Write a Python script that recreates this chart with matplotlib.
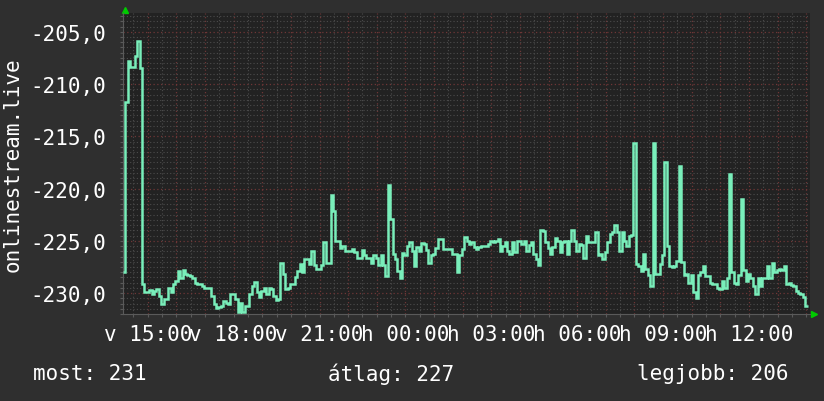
import numpy as np
import matplotlib
matplotlib.use("Agg")
import matplotlib.pyplot as plt
from matplotlib.ticker import MultipleLocator, FuncFormatter

plt.rcParams['font.family'] = ['DejaVu Sans Mono']

# data: 5 minute steps starting 14:08 (minutes counted from sunday 00:00)
start_min = 14 * 60 + 8
step_min = 5
values = [
    -228.0, -211.7, -207.8, -208.4, -208.4, -207.3, -205.9, -208.5, -229.1, -229.9,
    -229.9, -229.7, -230.1, -229.8, -229.6, -230.3, -231.0, -230.6, -230.6, -229.5,
    -229.9, -229.1, -228.8, -227.9, -228.6, -227.8, -228.2, -228.3, -228.4, -228.6,
    -229.0, -229.1, -229.1, -229.3, -229.5, -229.5, -229.5, -230.3, -231.05, -231.4,
    -231.3, -231.2, -230.8, -230.9, -231.0, -230.1, -230.1, -230.6, -231.85, -230.9,
    -231.8, -231.2, -231.2, -230.1, -229.3, -228.9, -229.9, -230.4, -229.8, -229.5,
    -230.1, -229.5, -229.6, -230.3, -230.7, -230.6, -227.1, -228.2, -229.6, -229.5,
    -229.1, -229.1, -228.5, -227.9, -227.2, -228.0, -226.7, -226.7, -227.2, -226.0,
    -227.3, -227.7, -227.7, -227.3, -225.1, -227.1, -227.1, -220.6, -222.1, -225.0,
    -225.0, -225.7, -225.5, -225.95, -225.95, -225.95, -225.8, -226.1, -226.6, -226.6,
    -225.85, -226.4, -226.6, -226.6, -227.1, -226.4, -226.6, -227.3, -226.4, -227.3,
    -228.4, -219.7, -222.9, -226.3, -226.7, -227.9, -228.6, -226.2, -226.4, -225.5,
    -225.1, -226.0, -227.4, -225.6, -226.0, -225.2, -225.3, -225.85, -227.1, -226.4,
    -226.3, -225.7, -224.8, -224.8, -225.8, -225.8, -225.8, -225.8, -226.3, -226.3,
    -228.0, -226.4, -225.8, -224.6, -225.0, -225.3, -225.1, -225.6, -225.8, -225.6,
    -225.5, -225.5, -225.5, -225.3, -225.0, -225.1, -225.0, -224.8, -225.95, -225.5,
    -225.1, -225.95, -226.3, -225.1, -226.1, -225.05, -225.0, -225.3, -225.0, -225.95,
    -225.4, -225.1, -226.3, -226.7, -227.3, -224.0, -224.1, -225.1, -225.7, -226.3,
    -225.6, -224.7, -225.0, -226.1, -225.1, -225.0, -226.3, -225.0, -224.0, -225.0,
    -225.95, -225.3, -225.4, -226.6, -224.5, -225.1, -225.1, -225.1, -224.2, -226.4,
    -226.3, -226.7, -226.1, -225.1, -224.3, -224.2, -223.5, -224.2, -226.0, -224.2,
    -225.0, -225.5, -224.5, -224.4, -215.6, -227.2, -227.4, -227.9, -226.3, -227.7,
    -228.3, -229.3, -215.6, -228.2, -228.2, -227.2, -226.4, -217.5, -225.5, -227.4,
    -227.5, -227.4, -226.9, -217.8, -227.0, -228.3, -228.2, -229.0, -228.3, -229.9,
    -230.5, -228.3, -228.0, -227.4, -228.4, -228.4, -229.0, -229.1, -229.1, -229.5,
    -229.6, -228.8, -229.5, -228.6, -218.6, -228.0, -229.0, -229.1, -228.3, -221.0,
    -227.8, -228.8, -228.2, -228.6, -229.3, -230.1, -228.6, -229.3, -228.6, -228.6,
    -227.4, -228.6, -227.1, -228.0, -227.8, -227.7, -227.8, -227.4, -229.1, -229.0,
    -229.2, -229.3, -229.8, -230.0, -230.1, -230.4, -231.2,
]

tick_minutes = [900, 1080, 1260, 1440, 1620, 1800, 1980, 2160]
tick_labels = ['v 15:00', 'v 18:00', 'v 21:00', 'h 00:00',
               'h 03:00', 'h 06:00', 'h 09:00', 'h 12:00']
legend_texts = ['most: 231', 'átlag: 227', 'legjobb: 206']
ylabel = 'onlinestream.live'

bg = '#2f2f2f'
plot_bg = '#222222'
line_col = '#79eeba'
fs = 15

fig = plt.figure(figsize=(8.24, 4.02), dpi=100, facecolor=bg)
ax = fig.add_axes([123 / 824, 87 / 402, 687 / 824, 301 / 402], facecolor=plot_bg)

edges = start_min + step_min * np.arange(len(values) + 1)
ax.stairs(values, edges, color=line_col, linewidth=1.8, baseline=None, zorder=3)

ax.set_xlim(start_min, start_min + 24 * 60)
ax.set_ylim(-232.0, -203.2)

# grid like rrdtool
ax.xaxis.set_major_locator(MultipleLocator(60))
ax.xaxis.set_minor_locator(MultipleLocator(30))
ax.yaxis.set_major_locator(MultipleLocator(5))
ax.yaxis.set_minor_locator(MultipleLocator(0.5))
ax.grid(which='minor', color='#4c4c4c', linestyle=(0, (1, 2)), linewidth=0.8)
ax.grid(which='major', color='#6e3636', linestyle=(0, (1, 2)), linewidth=0.9)

lab = dict(zip(tick_minutes, tick_labels))
ax.xaxis.set_major_formatter(FuncFormatter(lambda v, p: lab.get(int(round(v)), '')))
ax.yaxis.set_major_formatter(FuncFormatter(lambda v, p: f"{v:.1f}".replace('.', ',')))

ax.tick_params(which='both', colors='#5a5a5a', length=2, width=0.8)
ax.tick_params(axis='x', labelcolor='white', labelsize=fs, pad=5)
ax.tick_params(axis='y', labelcolor='white', labelsize=fs, pad=10)
for s in ['top', 'right']:
    ax.spines[s].set_visible(False)
for s in ['left', 'bottom']:
    ax.spines[s].set_color('#5a5a5a')
    ax.spines[s].set_linewidth(0.8)

# little green arrows at axis ends
ax.plot([0.003], [1.01], marker='^', color='#00cc00', markersize=4,
        transform=ax.transAxes, clip_on=False)
ax.plot([1.006], [0.0], marker='>', color='#00cc00', markersize=4,
        transform=ax.transAxes, clip_on=False)

fig.text(13 / 824, 1 - 165 / 402, ylabel, rotation=90, color='white',
         fontsize=fs, ha='center', va='center')

for x, s in zip([33, 328, 637], legend_texts):
    fig.text(x / 824, 1 - 374 / 402, s, color='white', fontsize=fs,
             ha='left', va='center')

fig.savefig('out.png', dpi=100, facecolor=bg)
